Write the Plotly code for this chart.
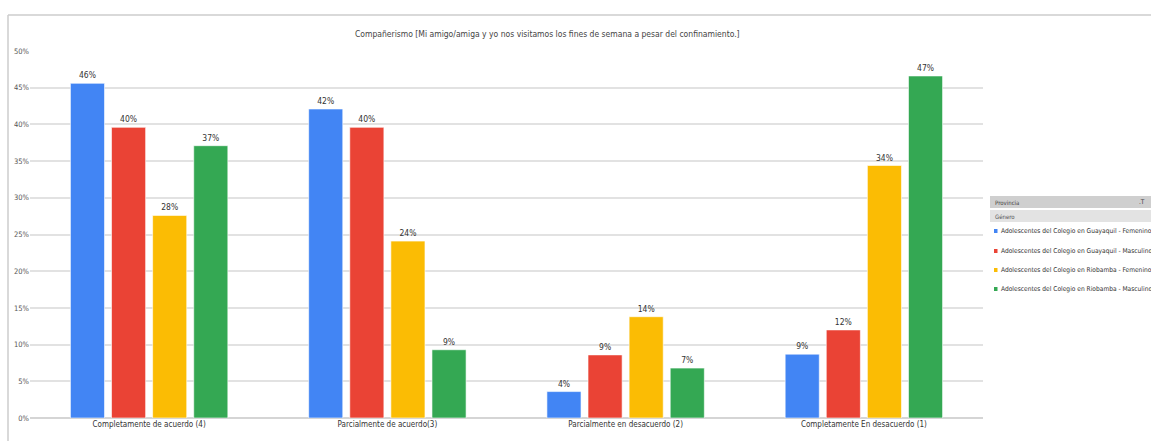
import plotly.graph_objects as go

categories = ["Completamente de acuerdo (4)", "Parcialmente de acuerdo(3)",
              "Parcialmente en desacuerdo (2)", "Completamente En desacuerdo (1)"]
series_names = ["Adolescentes del Colegio en Guayaquil - Femenino",
                "Adolescentes del Colegio en Guayaquil - Masculino",
                "Adolescentes del Colegio en Riobamba - Femenino",
                "Adolescentes del Colegio en Riobamba - Masculino"]
guayaquil_fem = [45.6, 42.1, 3.6, 8.7]
guayaquil_masc = [39.6, 39.6, 8.6, 12.0]
riobamba_fem = [27.6, 24.1, 13.8, 34.4]
riobamba_masc = [37.1, 9.3, 6.8, 46.6]
series_values = [guayaquil_fem, guayaquil_masc, riobamba_fem, riobamba_masc]
colors = ["#4285F4", "#EA4335", "#FBBC04", "#34A853"]
y_ticks = list(range(0, 51, 5))
title = "Compañerismo [Mi amigo/amiga y yo nos visitamos los fines de semana a pesar del confinamiento.]"

FONT = "DejaVu Sans Condensed, Liberation Sans Narrow, Arial Narrow, sans-serif"
W, H = 1151, 441
ML, MR, MT, MB = 30, 168, 51, 23
PW, PH = W - ML - MR, H - MT - MB


def px(x):
    return (x - ML) / PW


def py(y):
    return (H - MB - y) / PH


fig = go.Figure()
for name, vals, col in zip(series_names, series_values, colors):
    fig.add_trace(go.Bar(
        x=categories, y=vals, name=name, marker_color=col,
        marker_line=dict(color="rgba(255,255,255,0.6)", width=1),
        texttemplate="%{y:.0f}%", textposition="outside", cliponaxis=False,
        textfont=dict(family=FONT, size=8.5, color="#333333"),
        showlegend=False,
    ))

shapes = [
    dict(type="line", xref="paper", yref="paper", x0=px(8), x1=px(W), y0=py(15), y1=py(15),
         line=dict(color="#cccccc", width=1.5), layer="above"),
    dict(type="line", xref="paper", yref="paper", x0=px(8), x1=px(8), y0=py(15), y1=py(H),
         line=dict(color="#cccccc", width=1.5), layer="above"),
    dict(type="rect", xref="paper", yref="paper", x0=px(990), x1=px(W + 5), y0=py(196), y1=py(208),
         fillcolor="#cfcfcf", line=dict(width=0)),
    dict(type="rect", xref="paper", yref="paper", x0=px(990), x1=px(W + 5), y0=py(210), y1=py(222),
         fillcolor="#e3e3e3", line=dict(width=0)),
]
annotations = [
    dict(text=title, xref="paper", yref="paper", x=px(547), y=py(34), showarrow=False,
         xanchor="center", yanchor="middle", font=dict(family=FONT, size=8.5, color="#444444")),
    dict(text="Provincia", xref="paper", yref="paper", x=px(993), y=py(202), showarrow=False,
         xanchor="left", yanchor="middle", font=dict(family=FONT, size=6, color="#444444")),
    dict(text=".T", xref="paper", yref="paper", x=px(1147), y=py(202), showarrow=False,
         xanchor="right", yanchor="middle", font=dict(family=FONT, size=6.5, color="#444444")),
    dict(text="Género", xref="paper", yref="paper", x=px(993), y=py(216), showarrow=False,
         xanchor="left", yanchor="middle", font=dict(family=FONT, size=6, color="#555555")),
]
leg_y = [231, 251, 270, 289]
for name, col, yy in zip(series_names, colors, leg_y):
    shapes.append(dict(type="rect", xref="paper", yref="paper", x0=px(994), x1=px(997.5),
                       y0=py(yy + 2), y1=py(yy - 2), fillcolor=col, line=dict(width=0)))
    annotations.append(dict(text=name, xref="paper", yref="paper", x=px(998.5), y=py(yy),
                            showarrow=False, xanchor="left", yanchor="middle",
                            font=dict(family=FONT, size=6.6, color="#333333")))

fig.update_layout(
    width=W, height=H,
    margin=dict(l=ML, r=MR, t=MT, b=MB, pad=0),
    paper_bgcolor="white", plot_bgcolor="white",
    barmode="group", bargap=0.31, bargroupgap=0.17,
    shapes=shapes, annotations=annotations,
    font=dict(family=FONT, size=8, color="#555555"),
    xaxis=dict(showgrid=False, showline=False, ticks="", tickfont=dict(family=FONT, size=8, color="#333333")),
    yaxis=dict(range=[0, 50], tickvals=y_ticks, ticktext=[f"{v}%" for v in y_ticks],
               showgrid=True, gridcolor="#e2e2e2", gridwidth=1.5, zeroline=True,
               zerolinecolor="#d5d5d5", zerolinewidth=1.5, ticks="",
               tickfont=dict(family=FONT, size=7.5, color="#555555")),
)

fig.write_html("out.html", config={"displayModeBar": False})

with open("out.html", encoding="utf-8") as f:
    html = f.read()
html = html.replace("<head>", "<head><style>html,body{margin:0;padding:0;overflow:hidden;}</style>", 1)
with open("out.html", "w", encoding="utf-8") as f:
    f.write(html)
